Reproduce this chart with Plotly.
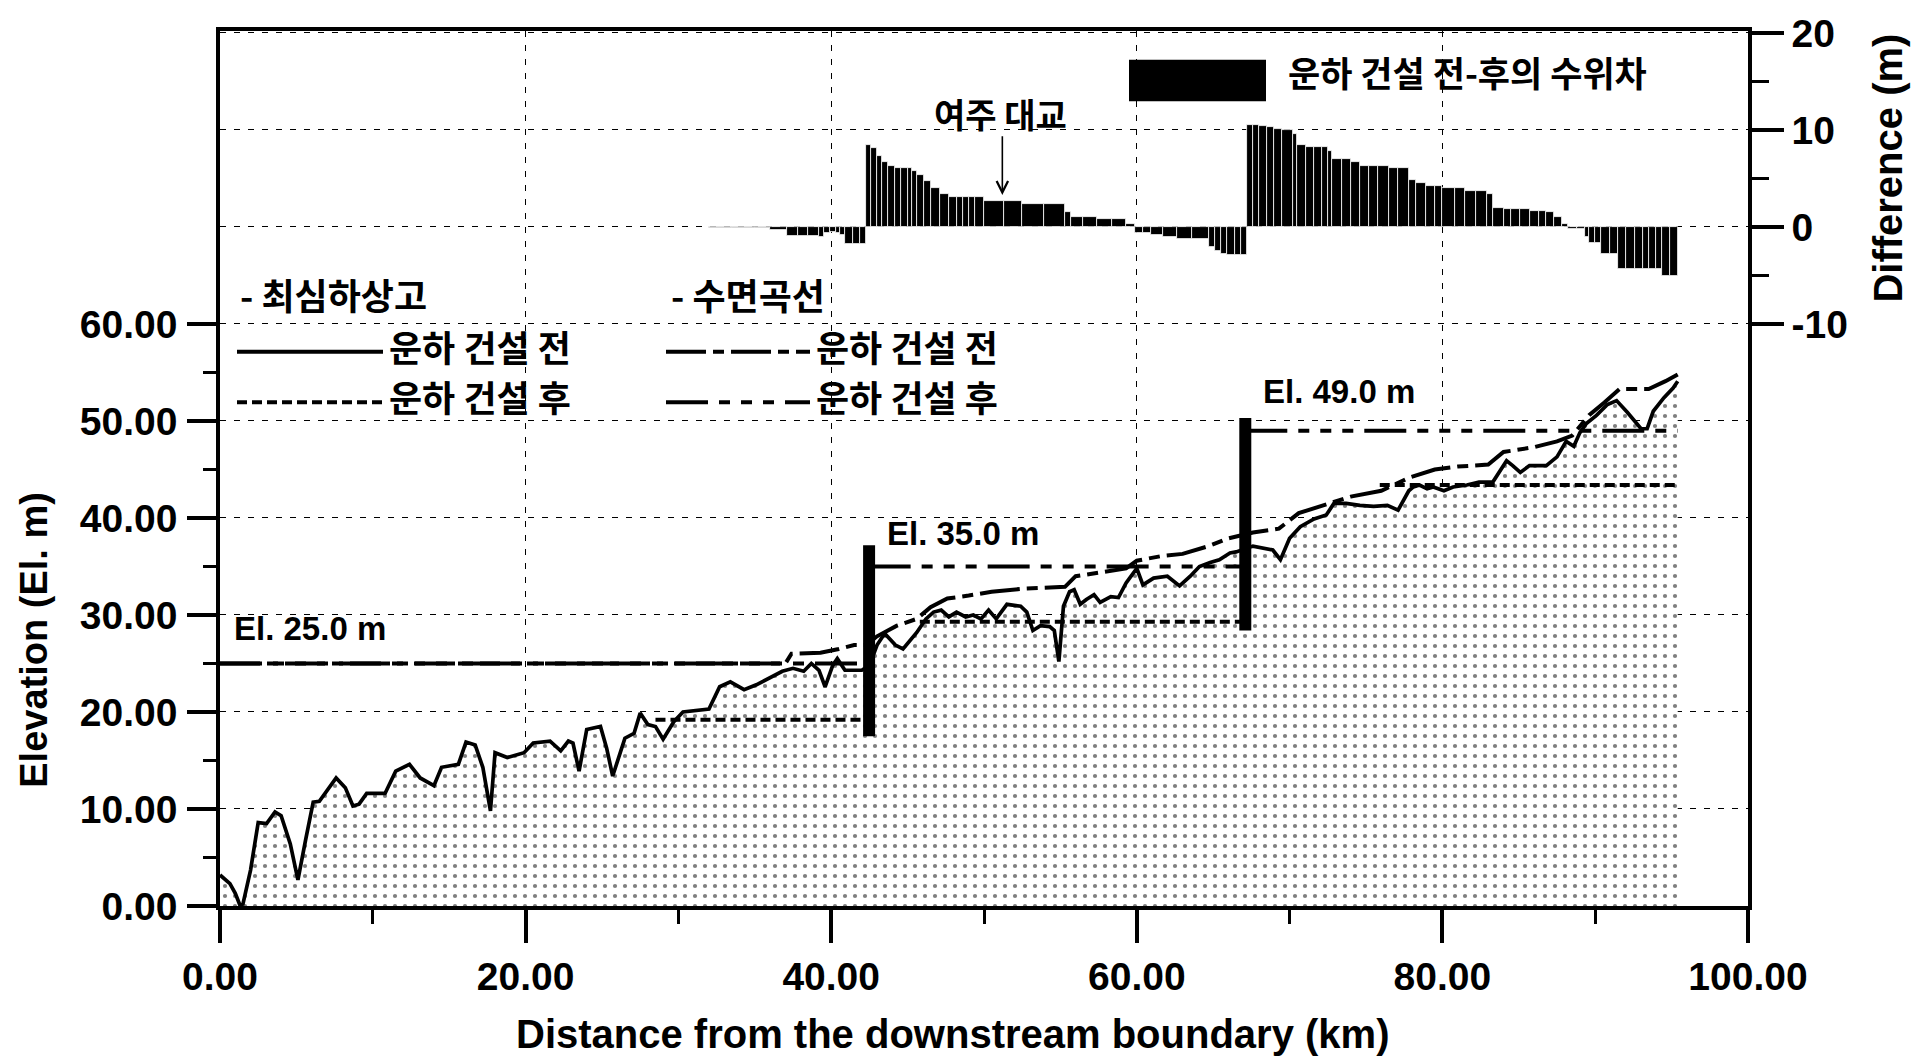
import plotly.graph_objects as go

# ---------------- data ----------------
# Thalweg (deepest bed) elevation before canal construction
bed_km = [0.0, 0.65, 1.0, 1.3, 1.5, 2.0, 2.5, 3.05, 3.6, 4.0, 4.6, 5.1, 5.6, 6.1, 6.5, 7.1, 7.6,
          8.2, 8.7, 9.1, 9.6, 10.8, 11.5, 12.4, 13.1, 14.0, 14.5, 15.6, 16.1, 16.7, 17.2, 17.7,
          18.0, 18.8, 19.9, 20.5, 21.6, 22.3, 22.8, 23.1, 23.5, 24.0, 24.9, 25.3, 25.7, 26.5,
          27.1, 27.5, 28.0, 28.5, 29.0, 29.7, 30.3, 32.0, 32.7, 33.4, 34.3, 35.1, 36.0, 36.8,
          37.5, 38.2, 38.7, 39.2, 39.6, 40.1, 40.4, 40.9, 42.0, 42.5, 43.0, 43.5, 44.2, 44.7,
          45.6, 46.2, 46.7, 47.2, 47.7, 48.2, 48.8, 49.3, 49.8, 50.3, 50.8, 51.5, 52.4, 52.8,
          53.2, 53.7, 54.3, 54.6, 54.9, 55.2, 55.6, 55.9, 56.3, 56.7, 57.2, 57.6, 58.3, 58.8,
          59.3, 60.0, 60.4, 61.1, 62.0, 62.8, 63.5, 64.1, 64.8, 65.4, 66.1, 66.5, 67.6, 68.9,
          69.4, 70.0, 70.7, 71.6, 72.4, 72.9, 73.7, 74.6, 75.5, 76.4, 77.1, 77.8, 78.1, 78.5,
          79.0, 79.4, 80.1, 80.7, 81.6, 82.4, 83.3, 83.9, 84.2, 84.6, 85.1, 85.7, 86.8, 87.5,
          88.1, 88.6, 89.0, 89.4, 90.1, 90.8, 91.4, 92.1, 93.0, 93.4, 93.8, 94.5, 95.1, 95.4]
bed_el = [3.2, 2.3, 1.3, 0.1, 0.2, 3.7, 8.6, 8.5, 9.7, 9.3, 6.4, 2.7, 6.8, 10.7, 10.8, 12.2, 13.2,
          12.2, 10.3, 10.5, 11.6, 11.6, 13.9, 14.6, 13.2, 12.4, 14.3, 14.6, 16.9, 16.6, 14.3, 9.8,
          15.8, 15.3, 15.8, 16.8, 17.0, 16.0, 17.0, 16.8, 13.9, 18.2, 18.5, 16.3, 13.4, 17.3,
          17.8, 19.9, 18.7, 18.5, 17.2, 19.0, 20.0, 20.3, 22.6, 23.1, 22.3, 22.8, 23.5, 24.2,
          24.5, 24.2, 25.0, 24.3, 22.6, 24.8, 25.5, 24.3, 24.3, 24.8, 26.9, 28.1, 26.9, 26.5,
          28.2, 29.6, 30.3, 30.5, 29.8, 30.3, 29.8, 30.0, 29.6, 30.5, 29.6, 31.1, 30.9, 30.3,
          28.4, 28.9, 28.8, 28.4, 25.2, 30.9, 32.4, 32.6, 31.1, 31.6, 32.1, 31.3, 31.9, 31.8,
          33.3, 34.8, 33.1, 33.8, 34.0, 33.0, 34.0, 35.0, 35.4, 35.7, 36.4, 36.5, 37.1, 36.7,
          35.7, 37.9, 39.1, 39.9, 40.3, 41.5, 41.5, 41.3, 41.2, 41.3, 40.8, 42.8, 43.2, 43.4,
          43.0, 43.2, 42.8, 43.2, 43.4, 43.7, 43.7, 45.2, 45.9, 45.4, 44.7, 45.4, 45.4, 46.3,
          47.9, 47.4, 48.8, 49.7, 50.6, 51.7, 52.1, 50.9, 49.2, 49.2, 51.0, 52.4, 53.4, 54.1]

# Thalweg after dredging (flat reaches behind each weir)
bed_after_km = [28.5, 42.45, None, 45.8, 67.1, None, 75.9, 95.4]
bed_after_el = [19.2, 19.2, None, 29.3, 29.3, None, 43.4, 43.4]

# Water surface profile before construction
ws_before_km = [0.0, 37.0, 37.4, 39.3, 40.5, 41.5, 42.3, 43.0, 44.3, 45.6, 46.5, 47.6, 49.0,
                50.5, 52.5, 55.3, 56.0, 57.6, 59.3, 60.0, 61.7, 63.0, 64.7, 66.0, 67.6, 69.3,
                70.6, 72.6, 74.0, 76.0, 77.9, 79.5, 81.0, 83.0, 84.0, 86.0, 87.5, 88.5, 89.6,
                90.6, 91.6, 93.5, 94.6, 95.4]
ws_before_el = [25.0, 25.0, 26.0, 26.1, 26.5, 26.9, 26.9, 27.8, 28.9, 29.6, 30.8, 31.7, 32.0,
                32.4, 32.7, 32.9, 34.0, 34.4, 34.8, 35.6, 36.1, 36.3, 37.1, 37.9, 38.5, 38.9,
                40.5, 41.5, 42.2, 42.8, 44.2, 45.0, 45.3, 45.5, 46.8, 47.3, 47.9, 48.5, 50.6,
                51.9, 53.3, 53.3, 54.1, 54.8]

# Water surface after construction (weir pools)
ws_after_km = [0.0, 42.45, None, 42.45, 67.1, None, 67.1, 95.4]
ws_after_el = [25.0, 25.0, None, 35.0, 35.0, None, 49.0, 49.0]

# Weirs
weir_km = [42.48, 67.1]
weir_bottom = [17.5, 28.4]
weir_top = [37.2, 50.3]

# Water level difference (after - before), each value holds up to the next station
diff_km = [32.0, 33.5, 35.0, 36.0, 37.1, 37.8, 38.5, 39.2, 39.5, 39.9, 40.3, 40.6, 40.9, 41.4, 41.9,
           42.3, 42.6, 43.0, 43.3, 43.7, 44.2, 44.6, 45.0, 45.3, 45.6, 46.1, 46.5, 47.1, 47.7,
           48.2, 48.6, 49.0, 49.4, 50.0, 51.3, 52.5, 53.9, 55.3, 55.7, 56.5, 57.4, 58.4, 59.3,
           59.9, 60.4, 60.9, 61.7, 62.6, 63.6, 64.7, 65.1, 65.5, 65.9, 66.4, 66.8,
           67.2, 67.6, 68.0, 68.5, 69.0, 69.5, 70.2, 70.5, 71.1, 71.6, 72.1, 72.5, 72.8, 73.4,
           74.0, 74.6, 75.2, 75.8, 76.5, 77.1, 77.8, 78.3, 78.9, 79.5, 80.0, 80.8, 81.5, 82.2,
           82.9, 83.3, 84.0, 84.5, 85.1, 85.7, 86.3, 86.8, 87.3, 87.8, 88.2, 88.8, 89.3, 89.6,
           90.0, 90.4, 91.0, 91.5, 92.0, 92.6, 93.1, 93.5, 94.0, 94.4, 94.9]
diff_m = [-0.1, -0.1, -0.1, -0.3, -0.9, -0.9, -0.9, -1.0, -0.6, -0.5, -0.6, -0.8, -1.8, -1.8, -1.8,
          8.4, 8.1, 7.3, 6.7, 6.3, 6.1, 6.1, 6.1, 5.8, 5.4, 4.7, 4.0, 3.4, 3.1,
          3.1, 3.1, 3.1, 3.1, 2.7, 2.7, 2.4, 2.4, 1.5, 1.0, 1.0, 0.8, 0.8, 0.3,
          -0.6, -0.6, -0.8, -1.0, -1.2, -1.2, -2.1, -2.5, -2.8, -2.9, -2.9, -2.9,
          10.5, 10.5, 10.4, 10.3, 10.1, 10.0, 9.6, 8.5, 8.2, 8.2, 8.2, 7.8, 7.0, 7.0,
          6.7, 6.3, 6.3, 6.3, 6.1, 6.1, 4.8, 4.5, 4.2, 4.2, 4.0, 4.0, 3.7, 3.7,
          3.4, 2.0, 1.8, 1.8, 1.8, 1.6, 1.6, 1.5, 1.0, 0.3, -0.2, -0.2, -1.0, -1.7,
          -1.7, -2.8, -2.8, -4.3, -4.3, -4.3, -4.3, -4.3, -4.3, -5.1, -5.1]
diff_last_km = 95.4

x_ticks = [0, 20, 40, 60, 80, 100]
x_ticktext = ["0.00", "20.00", "40.00", "60.00", "80.00", "100.00"]
y_ticks = [0, 10, 20, 30, 40, 50, 60]
y_ticktext = ["0.00", "10.00", "20.00", "30.00", "40.00", "50.00", "60.00"]
y2_ticks = [-10, 0, 10, 20]

# ---------------- page geometry ----------------
W, H = 1914, 1061
ML, MR, MT, MB = 220, 166, 22, 155
PW, PH = W - ML - MR, H - MT - MB


def pxx(p):
    return (p - ML) / PW


def pxy(p):
    return (H - MB - p) / PH


LAT = "Liberation Sans, Arial, sans-serif"
KOR = "Noto Sans CJK KR, sans-serif"
BLACK = "#000000"
GRID = dict(showgrid=True, gridcolor=BLACK, gridwidth=1.4, griddash="6px,8px")

fig = go.Figure()

# bed before construction with stippled ground
fig.add_trace(go.Scatter(
    x=bed_km, y=bed_el, mode="lines", fill="tozeroy",
    line=dict(color=BLACK, width=3.7),
    fillcolor="rgba(255,255,255,1)",
    fillpattern=dict(shape=".", fgcolor=BLACK, bgcolor="white", size=10, solidity=0.14),
    showlegend=False, hoverinfo="skip"))

# bed after dredging
fig.add_trace(go.Scatter(
    x=bed_after_km, y=bed_after_el, mode="lines",
    line=dict(color=BLACK, width=4, dash="10px,5px"),
    showlegend=False, connectgaps=False))

# water surfaces
fig.add_trace(go.Scatter(
    x=ws_after_km, y=ws_after_el, mode="lines",
    line=dict(color=BLACK, width=4, dash="42px,11px,11px,11px,11px,11px,11px,11px"),
    showlegend=False, connectgaps=False))
fig.add_trace(go.Scatter(
    x=ws_before_km, y=ws_before_el, mode="lines",
    line=dict(color=BLACK, width=4, dash="40px,7px,11px,7px"),
    showlegend=False))

# weirs
wx, wy = [], []
for k, b, t in zip(weir_km, weir_bottom, weir_top):
    wx += [k, k, None]
    wy += [b, t, None]
fig.add_trace(go.Scatter(x=wx, y=wy, mode="lines", line=dict(color=BLACK, width=12),
                         showlegend=False, connectgaps=False))

# difference bars on the secondary axis
edges = diff_km + [diff_last_km]
widths = [edges[i + 1] - edges[i] for i in range(len(diff_km))]
centers = [diff_km[i] + widths[i] / 2 for i in range(len(diff_km))]
fig.add_trace(go.Bar(
    x=centers, y=diff_m, width=widths, yaxis="y2",
    marker=dict(color=BLACK, line=dict(color="white", width=0.8)),
    showlegend=False))

tickfont = dict(family=LAT, size=39, color=BLACK, weight="bold")

fig.update_layout(
    width=W, height=H,
    margin=dict(l=ML, r=MR, t=MT, b=MB),
    paper_bgcolor="white", plot_bgcolor="white",
    bargap=0, showlegend=False,
    xaxis=dict(range=[0, 100], tickvals=x_ticks, ticktext=x_ticktext,
               ticks="outside", ticklen=33, tickwidth=3.5, tickcolor=BLACK,
               minor=dict(tickvals=[10, 30, 50, 70, 90], ticks="outside", ticklen=14,
                          tickwidth=3, tickcolor=BLACK, showgrid=False),
               showline=True, linewidth=4, linecolor=BLACK, mirror=True,
               tickfont=tickfont, ticklabelstandoff=0, zeroline=False, **GRID),
    yaxis=dict(range=[0, 90.2], tickvals=y_ticks, ticktext=y_ticktext,
               ticks="outside", ticklen=29, tickwidth=3.5, tickcolor=BLACK,
               minor=dict(tickvals=[5, 15, 25, 35, 45, 55], ticks="outside", ticklen=13,
                          tickwidth=3, tickcolor=BLACK, showgrid=False),
               showline=True, linewidth=3.5, linecolor=BLACK,
               tickfont=tickfont, ticklabelstandoff=2, zeroline=False, **GRID),
    yaxis2=dict(range=[-70, 20.2], overlaying="y", side="right", anchor="x",
                tickvals=y2_ticks, ticktext=[str(v) for v in y2_ticks],
                ticks="outside", ticklen=32, tickwidth=3.5, tickcolor=BLACK,
                minor=dict(tickvals=[-5, 5, 15], ticks="outside", ticklen=17,
                           tickwidth=3, tickcolor=BLACK, showgrid=False),
                showline=True, linewidth=3.5, linecolor=BLACK,
                tickfont=tickfont, ticklabelstandoff=0, zeroline=False, **GRID),
)

ann = []
# axis titles
ann.append(dict(text="Distance from the downstream boundary (km)", x=pxx(952), y=pxy(1035),
                xref="paper", yref="paper", showarrow=False, xanchor="center", yanchor="middle",
                font=dict(family=LAT, size=40, color=BLACK, weight="bold")))
ann.append(dict(text="Elevation (El. m)", x=pxx(34), y=pxy(637), textangle=-90,
                xref="paper", yref="paper", showarrow=False, xanchor="center", yanchor="middle",
                font=dict(family=LAT, size=38, color=BLACK, weight="bold")))
ann.append(dict(text="Difference (m)", x=pxx(1888), y=pxy(160), textangle=-90,
                xref="paper", yref="paper", showarrow=False, xanchor="center", yanchor="middle",
                font=dict(family=LAT, size=40, color=BLACK, weight="bold")))

# pool elevation labels
elfont = dict(family=LAT, size=33, color=BLACK, weight="bold")
for txt, xk, ye in [("El. 25.0 m", 0.8, 28.6), ("El. 35.0 m", 43.5, 38.4), ("El. 49.0 m", 68.1, 53.0)]:
    ann.append(dict(text=txt, x=xk, y=ye, xref="x", yref="y", showarrow=False,
                    xanchor="left", yanchor="middle", font=elfont))

# bridge marker
kfont = dict(family=KOR, size=36, color=BLACK, weight="bold")
ann.append(dict(text="여주 대교", x=51.1, y=11.7, xref="x", yref="y2", showarrow=False,
                xanchor="center", yanchor="middle",
                font=dict(family=KOR, size=34, color=BLACK, weight="bold")))
ann.append(dict(text="", x=51.2, y=3.3, xref="x", yref="y2", ax=51.2, ay=9.5,
                axref="x", ayref="y2", showarrow=True, arrowhead=5, arrowsize=1.4,
                arrowwidth=1.6, arrowcolor=BLACK))

# legend texts
ann.append(dict(text="운하 건설 전-후의 수위차", x=pxx(1286), y=pxy(63), xref="paper", yref="paper",
                showarrow=False, xanchor="left", yanchor="middle",
                font=dict(family=KOR, size=35, color=BLACK, weight="bold")))
for txt, xp, yp in [("- 최심하상고", 238, 288), ("- 수면곡선", 669, 288),
                    ("운하 건설 전", 387, 340), ("운하 건설 후", 387, 391),
                    ("운하 건설 전", 814, 340), ("운하 건설 후", 814, 391)]:
    ann.append(dict(text=txt, x=pxx(xp), y=pxy(yp), xref="paper", yref="paper",
                    showarrow=False, xanchor="left", yanchor="middle", font=kfont))

shapes = []
# legend swatch for the bars
shapes.append(dict(type="rect", xref="paper", yref="paper", x0=pxx(1129), x1=pxx(1266),
                   y0=pxy(93), y1=pxy(51), fillcolor=BLACK, line=dict(width=0)))
# legend line samples
for x0, x1, yp, dash in [(237, 383, 346, "solid"), (237, 383, 397, "10px,5px"),
                         (666, 810, 346, "40px,7px,11px,7px"),
                         (666, 810, 397, "42px,11px,11px,11px,11px,11px,11px,11px")]:
    shapes.append(dict(type="line", xref="paper", yref="paper", x0=pxx(x0), x1=pxx(x1),
                       y0=pxy(yp), y1=pxy(yp), line=dict(color=BLACK, width=4, dash=dash)))

fig.update_layout(annotations=ann, shapes=shapes)

fig.write_html("out.html")
